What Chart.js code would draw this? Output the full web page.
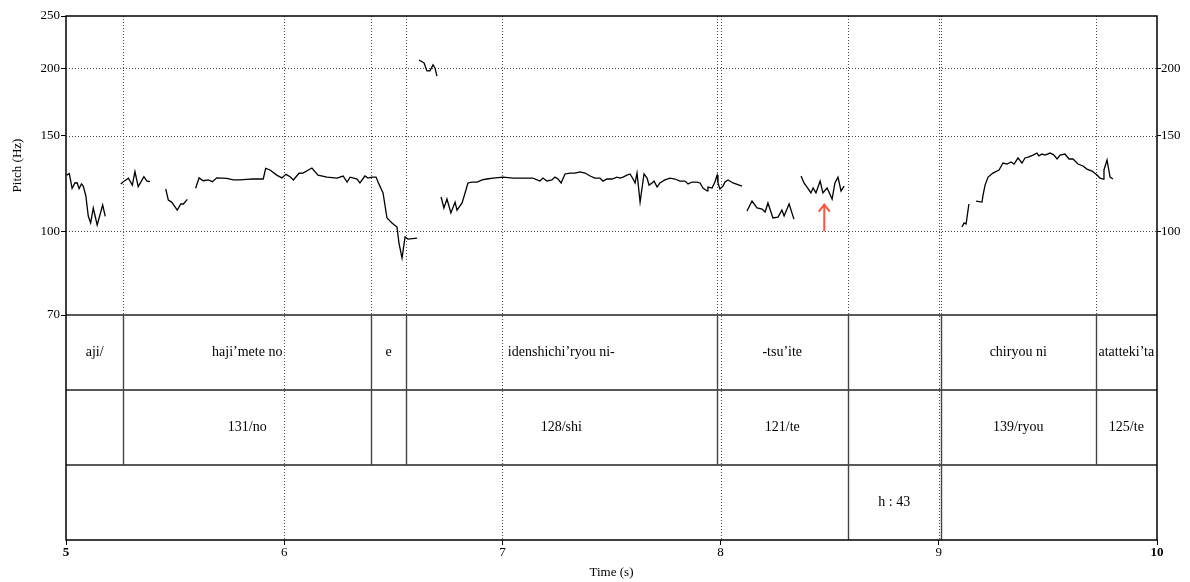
<!DOCTYPE html>
<html>
<head>
<meta charset="utf-8">
<script src="https://cdn.jsdelivr.net/npm/chart.js@4"></script>
<style>
  html, body { margin: 0; padding: 0; background: #fff; }
  #wrap { width: 1190px; height: 582px; position: relative; }
</style>
</head>
<body>
<div id="wrap"><canvas id="pitchChart"></canvas></div>
<script>
// Pitch contour (Praat style) with text grid tiers

// time axis
const timeMin = 5, timeMax = 10;
// pitch axis ticks (log scale)
const pitchTicksLeft = [70, 100, 150, 200, 250];
const pitchTicksRight = [100, 150, 200];
const pitchGrid = [100, 150, 200];
const pitchMax = 250, pitchFloor = 70;

// pitch contours, one array per voiced stretch (s / Hz)
const contourTimes = [
  [5.003, 5.015, 5.028, 5.041, 5.051, 5.060, 5.071, 5.079, 5.091, 5.102, 5.113, 5.125, 5.143, 5.168, 5.180],
  [5.251, 5.263, 5.286, 5.304, 5.316, 5.331, 5.357, 5.370, 5.385],
  [5.457, 5.469, 5.484, 5.510, 5.526, 5.538, 5.556],
  [5.594, 5.610, 5.629, 5.652, 5.671, 5.691, 5.737, 5.767, 5.797, 5.828, 5.858, 5.904, 5.915, 5.935, 5.966,
   5.989, 6.008, 6.027, 6.042, 6.068, 6.086, 6.127, 6.155, 6.196, 6.242, 6.270, 6.288, 6.302, 6.334, 6.347,
   6.370, 6.384, 6.402, 6.421, 6.430, 6.453, 6.471, 6.494, 6.517, 6.526, 6.540, 6.554, 6.567, 6.609],
  [6.618, 6.641, 6.654, 6.668, 6.682, 6.691, 6.700],
  [6.719, 6.732, 6.746, 6.764, 6.783, 6.792, 6.815, 6.829, 6.842, 6.861,
   6.884, 6.907, 6.929, 6.957, 7.003, 7.049, 7.094, 7.140, 7.172, 7.186,
   7.204, 7.227, 7.241, 7.255, 7.269, 7.287, 7.310, 7.333, 7.356, 7.379,
   7.402, 7.424, 7.447, 7.461, 7.479, 7.502, 7.525, 7.539, 7.553, 7.571,
   7.585, 7.599, 7.608, 7.617, 7.631, 7.649, 7.663, 7.672, 7.686, 7.695,
   7.709, 7.722, 7.745, 7.768, 7.791, 7.814, 7.837, 7.851, 7.869, 7.892,
   7.906, 7.919, 7.938, 7.942, 7.961, 7.974, 7.984, 7.988, 7.997, 8.011,
   8.020, 8.034, 8.057, 8.098],
  [8.121, 8.144, 8.167, 8.190, 8.204, 8.217, 8.240, 8.263, 8.281, 8.291, 8.314, 8.336],
  [8.369, 8.382, 8.396, 8.414, 8.424, 8.437, 8.456, 8.469, 8.488, 8.511, 8.524, 8.538, 8.552, 8.566],
  [9.106, 9.116, 9.125, 9.138],
  [9.171, 9.198, 9.203, 9.212, 9.226, 9.248, 9.276, 9.294, 9.313, 9.331,
   9.345, 9.363, 9.381, 9.395, 9.413, 9.432, 9.450, 9.459, 9.473, 9.487,
   9.510, 9.528, 9.542, 9.556, 9.578, 9.597, 9.615, 9.638, 9.661, 9.679,
   9.702, 9.725, 9.739, 9.753, 9.757, 9.771, 9.785, 9.798]
];
const contourHz = [
  [127.0, 127.8, 120.0, 122.8, 122.9, 119.9, 122.3, 121.2, 116.2, 106.7, 103.6, 110.4, 102.7, 111.8, 106.5],
  [122.3, 123.5, 125.3, 121.7, 128.9, 120.9, 126.1, 123.9, 123.5],
  [119.7, 114.2, 113.2, 109.4, 112.3, 112.3, 114.5],
  [120.1, 125.5, 124.0, 124.4, 123.5, 125.5, 125.2, 124.4, 124.4, 124.7, 124.9, 124.9, 130.7, 129.8, 127.0,
   125.5, 127.4, 126.1, 124.4, 128.0, 128.1, 130.9, 127.0, 125.9, 125.4, 126.5, 123.3, 125.9, 124.9, 122.8,
   126.5, 125.4, 125.9, 125.9, 123.3, 117.7, 105.8, 103.6, 101.8, 95.1, 89.2, 97.6, 96.7, 97.1],
  [207.3, 204.7, 197.9, 197.9, 203.0, 200.4, 193.6],
  [115.7, 110.4, 114.7, 108.1, 113.2, 109.4, 112.8, 117.7, 122.8, 123.3,
   123.3, 124.4, 124.9, 125.4, 125.9, 125.4, 125.4, 125.4, 123.8, 125.4,
   123.8, 124.4, 125.9, 124.9, 122.8, 127.6, 128.1, 128.1, 128.7, 128.1,
   126.5, 125.4, 125.4, 123.8, 124.9, 124.9, 125.9, 125.4, 125.9, 127.0,
   127.6, 124.9, 122.8, 128.1, 113.2, 127.6, 125.4, 121.7, 122.8, 123.8,
   120.7, 122.8, 124.4, 125.4, 124.9, 123.8, 123.8, 122.3, 123.3, 123.3,
   122.8, 120.2, 118.7, 120.7, 120.2, 123.3, 127.0, 122.8, 119.7, 121.2,
   123.3, 124.4, 122.8, 121.2],
  [109.0, 113.7, 110.4, 109.9, 108.5, 112.8, 105.8, 106.2, 109.4, 106.7, 112.3, 105.3],
  [126.5, 122.8, 120.7, 117.7, 120.2, 117.7, 123.8, 117.7, 120.2, 114.7, 122.8, 125.9, 118.7, 121.2],
  [101.8, 103.6, 103.1, 112.3],
  [113.7, 113.2, 116.7, 121.7, 125.9, 128.1, 129.8, 133.7, 133.1, 134.3,
   133.1, 136.6, 133.7, 136.6, 137.2, 138.3, 139.5, 137.8, 138.9, 138.3,
   139.5, 138.3, 136.0, 138.3, 138.9, 136.0, 136.0, 133.1, 132.0, 130.3,
   129.2, 127.0, 125.4, 124.9, 129.8, 135.4, 125.9, 124.9]
];

// text grid tiers: inner boundaries (s) and interval labels
const wordBounds = [5.263, 6.398, 6.558, 7.982, 8.583, 9.009, 9.719];
const wordLabels = ['aji/', 'haji’mete no', 'e', 'idenshichi’ryou ni-', '-tsu’ite', '', 'chiryou ni', 'atatteki’ta'];
const accentBounds = [5.263, 6.398, 6.558, 7.982, 8.583, 9.009, 9.719];
const accentLabels = ['', '131/no', '', '128/shi', '121/te', '', '139/ryou', '125/te'];
const pauseBounds = [8.583, 9.009];
const pauseLabels = ['', 'h : 43', ''];

// red arrow marker
const arrowTime = 8.475;
const arrowFromHz = 100;
const arrowToHz = 112;

const SERIF = "'Liberation Serif', 'Times New Roman', serif";
// lowest value of the log axis, so that 70 Hz sits at the top of the tier block
const axisMin = 26.86;

const datasets = contourTimes.map((times, i) => ({
  data: times.map((t, j) => ({ x: t, y: contourHz[i][j] })),
  borderColor: '#000',
  borderWidth: 1.3,
  pointRadius: 0,
  tension: 0,
  fill: false
}));

const tiers = [
  { bounds: wordBounds, labels: wordLabels },
  { bounds: accentBounds, labels: accentLabels },
  { bounds: pauseBounds, labels: pauseLabels }
];

const praatPlugin = {
  id: 'praat',
  beforeDatasetsDraw(chart) {
    const { ctx, chartArea: a, scales: { x, y } } = chart;
    const top70 = y.getPixelForValue(pitchFloor);
    ctx.save();
    ctx.lineWidth = 1;
    ctx.strokeStyle = '#444';
    ctx.setLineDash([1, 2]);
    // horizontal pitch grid
    pitchGrid.forEach(v => {
      const py = Math.round(y.getPixelForValue(v)) + 0.5;
      ctx.beginPath(); ctx.moveTo(a.left, py); ctx.lineTo(a.right, py); ctx.stroke();
    });
    // whole-second grid, full height
    for (let t = timeMin + 1; t < timeMax; t++) {
      const px = Math.round(x.getPixelForValue(t)) + 0.5;
      ctx.beginPath(); ctx.moveTo(px, a.top); ctx.lineTo(px, a.bottom); ctx.stroke();
    }
    // interval boundaries in the pitch part
    wordBounds.forEach(t => {
      const px = Math.round(x.getPixelForValue(t)) + 0.5;
      ctx.beginPath(); ctx.moveTo(px, a.top); ctx.lineTo(px, top70); ctx.stroke();
    });
    ctx.restore();
  },
  afterDatasetsDraw(chart) {
    const { ctx, chartArea: a, scales: { x, y } } = chart;
    const top70 = Math.round(y.getPixelForValue(pitchFloor));
    const rowH = (a.bottom - top70) / tiers.length;
    ctx.save();

    // tier rows
    ctx.strokeStyle = '#222';
    ctx.lineWidth = 1.6;
    for (let r = 0; r < tiers.length; r++) {
      const py = top70 + r * rowH;
      ctx.beginPath(); ctx.moveTo(a.left, py); ctx.lineTo(a.right, py); ctx.stroke();
    }
    ctx.font = '14px ' + SERIF;
    ctx.fillStyle = '#000';
    ctx.textAlign = 'center';
    ctx.textBaseline = 'middle';
    tiers.forEach((tier, r) => {
      const y0 = top70 + r * rowH, y1 = y0 + rowH;
      ctx.strokeStyle = '#444';
      ctx.lineWidth = 1.4;
      tier.bounds.forEach(t => {
        const px = Math.round(x.getPixelForValue(t)) + 0.5;
        ctx.beginPath(); ctx.moveTo(px, y0); ctx.lineTo(px, y1); ctx.stroke();
      });
      const edges = [timeMin, ...tier.bounds, timeMax];
      tier.labels.forEach((lab, i) => {
        if (!lab) return;
        const cx = (x.getPixelForValue(edges[i]) + x.getPixelForValue(edges[i + 1])) / 2;
        ctx.fillText(lab, cx, (y0 + y1) / 2);
      });
    });

    // frame
    ctx.strokeStyle = '#000';
    ctx.lineWidth = 1.5;
    ctx.strokeRect(a.left, a.top, a.right - a.left, a.bottom - a.top);

    // red arrow
    const ax = x.getPixelForValue(arrowTime);
    const ay0 = y.getPixelForValue(arrowFromHz);
    const ay1 = y.getPixelForValue(arrowToHz);
    ctx.strokeStyle = 'rgb(255, 85, 65)';
    ctx.lineWidth = 2;
    ctx.beginPath(); ctx.moveTo(ax, ay0); ctx.lineTo(ax, ay1); ctx.stroke();
    ctx.beginPath();
    ctx.moveTo(ax - 5.5, ay1 + 7); ctx.lineTo(ax, ay1); ctx.lineTo(ax + 5.5, ay1 + 7);
    ctx.stroke();

    // y title centred on the pitch part
    ctx.save();
    ctx.translate(18, (a.top + top70) / 2);
    ctx.rotate(-Math.PI / 2);
    ctx.font = '13px ' + SERIF;
    ctx.fillStyle = '#000';
    ctx.textAlign = 'center';
    ctx.textBaseline = 'middle';
    ctx.fillText('Pitch (Hz)', 0, 0);
    ctx.restore();

    ctx.restore();
  }
};

const tickFont = { family: SERIF, size: 13 };

new Chart(document.getElementById('pitchChart'), {
  type: 'line',
  data: { datasets: datasets },
  options: {
    responsive: true,
    maintainAspectRatio: false,
    animation: false,
    layout: { padding: { top: 16, left: 0, right: 0, bottom: 0 } },
    plugins: { legend: { display: false }, tooltip: { enabled: false } },
    scales: {
      x: {
        type: 'linear',
        min: timeMin,
        max: timeMax,
        position: 'bottom',
        afterFit: s => { s.height = 42; },
        ticks: {
          stepSize: 1,
          padding: 0,
          color: '#000',
          maxRotation: 0,
          font: ctx => ({ family: SERIF, size: 13,
            weight: (ctx.tick && (ctx.tick.value === timeMin || ctx.tick.value === timeMax)) ? 'bold' : 'normal' })
        },
        grid: { drawOnChartArea: false, drawTicks: true, tickLength: 5, color: '#000' },
        border: { display: false },
        title: { display: true, text: 'Time (s)', color: '#000', font: tickFont, padding: { top: 0, bottom: 2 } }
      },
      y: {
        type: 'logarithmic',
        min: axisMin,
        max: pitchMax,
        position: 'left',
        afterFit: s => { s.width = 66; },
        afterBuildTicks: s => { s.ticks = pitchTicksLeft.map(v => ({ value: v })); },
        ticks: { color: '#000', font: tickFont, padding: 1, callback: v => String(v) },
        grid: { drawOnChartArea: false, drawTicks: true, tickLength: 5, color: '#000' },
        border: { display: false }
      },
      y2: {
        type: 'logarithmic',
        min: axisMin,
        max: pitchMax,
        position: 'right',
        afterFit: s => { s.width = 33; },
        afterBuildTicks: s => { s.ticks = pitchTicksRight.map(v => ({ value: v })); },
        ticks: { color: '#000', font: tickFont, padding: 0, callback: v => String(v) },
        grid: { drawOnChartArea: false, drawTicks: true, tickLength: 4, color: '#000' },
        border: { display: false }
      }
    }
  },
  plugins: [praatPlugin]
});
</script>
</body>
</html>
